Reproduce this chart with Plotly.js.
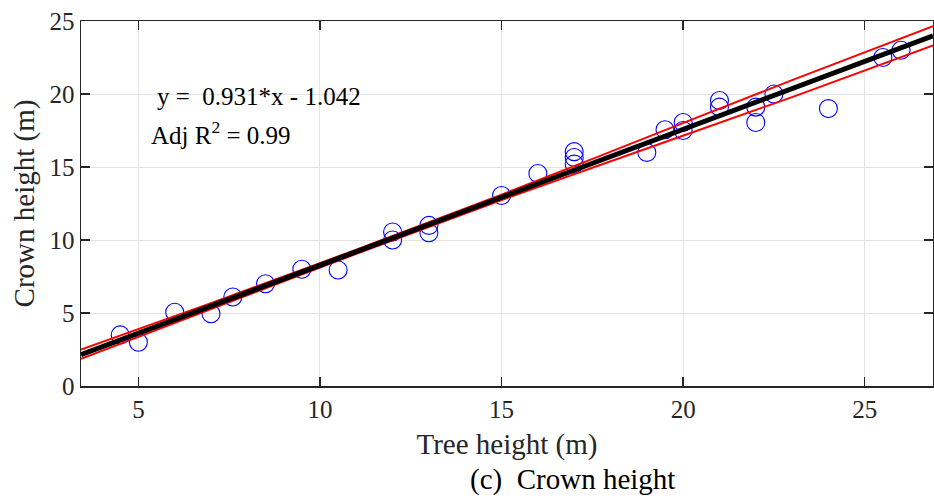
<!DOCTYPE html>
<html>
<head>
<meta charset="utf-8">
<script src="https://cdn.plot.ly/plotly-3.0.1.min.js"></script>
<style>
  html, body { margin: 0; padding: 0; background: #ffffff; }
  #chart { width: 934px; height: 496px; }
</style>
</head>
<body>
<div id="chart"></div>
<script>
// Observed data: tree height (x) vs crown height (y)
const treeHeight = [4.5, 5, 6, 7, 7.6, 8.5, 9.5, 10.5, 12, 12, 13, 13, 15, 16, 17, 17, 17,
                    19, 19.5, 20, 20, 21, 21, 22, 22, 22.5, 24, 25.5, 26];
const crownHeight = [3.5, 3, 5.05, 4.95, 6.1, 7, 8, 7.95, 10.55, 10, 11, 10.5, 13.05, 14.55, 16.05, 15.65, 15.2,
                     16, 17.55, 18.05, 17.5, 19.55, 19.1, 19.1, 18.05, 20, 19, 22.5, 23];

// Fitted line coefficients (as printed on the chart)
const slope = 0.931;
const intercept = -1.042;
const fitX = [3.42, 26.88];

// Confidence bounds
const boundX = [3.42, 7, 11, 15, 19, 23, 26.88];
const boundUpper = [2.49, 5.68, 9.34, 13.10, 17.03, 20.95, 24.64];
const boundLower = [1.86, 5.27, 9.06, 12.74, 16.27, 19.79, 23.32];

// Tick values
const xTicks = [5, 10, 15, 20, 25];
const yTicks = [0, 5, 10, 15, 20, 25];

const fitY = fitX.map(x => slope * x + intercept);

const font = "Liberation Serif, Times New Roman, serif";
const axisColor = "#262626";

const traces = [
  {
    x: treeHeight, y: crownHeight, type: "scatter", mode: "markers",
    marker: { symbol: "circle-open", size: 18, color: "#0000ff", line: { width: 1.1, color: "#0000ff" } },
    hoverinfo: "x+y", showlegend: false
  },
  {
    x: boundX, y: boundUpper, type: "scatter", mode: "lines",
    line: { color: "#ff0000", width: 2, shape: "spline" }, showlegend: false
  },
  {
    x: boundX, y: boundLower, type: "scatter", mode: "lines",
    line: { color: "#ff0000", width: 2, shape: "spline" }, showlegend: false
  },
  {
    x: fitX, y: fitY, type: "scatter", mode: "lines",
    line: { color: "#000000", width: 5 }, showlegend: false
  }
];

const layout = {
  width: 934, height: 496,
  margin: { l: 81, r: 1, t: 21, b: 110 },
  paper_bgcolor: "#ffffff", plot_bgcolor: "#ffffff",
  font: { family: font, color: axisColor, size: 25 },
  xaxis: {
    range: [3.42, 26.88], tickvals: xTicks, ticktext: xTicks.map(String),
    ticks: "inside", ticklen: 9, tickwidth: 1.3, tickcolor: axisColor,
    showline: true, linecolor: axisColor, linewidth: 1.5, mirror: "ticks",
    showgrid: true, gridcolor: "#e3e3e3", gridwidth: 1, zeroline: false,
    tickfont: { family: font, size: 25, color: axisColor },
    title: { text: "Tree height (m)", font: { family: font, size: 29, color: axisColor }, standoff: 12 },
    automargin: false
  },
  yaxis: {
    range: [0, 25], tickvals: yTicks, ticktext: yTicks.map(String),
    ticks: "inside", ticklen: 9, tickwidth: 1.3, tickcolor: axisColor,
    showline: true, linecolor: axisColor, linewidth: 1.5, mirror: "ticks",
    showgrid: true, gridcolor: "#e3e3e3", gridwidth: 1, zeroline: false,
    tickfont: { family: font, size: 25, color: axisColor },
    title: { text: "Crown height (m)", font: { family: font, size: 29, color: axisColor }, standoff: 6 },
    automargin: false
  },
  annotations: [
    { text: "y =  0.931*x - 1.042", xref: "x", yref: "y", x: 5.45, y: 19.8,
      xanchor: "left", yanchor: "middle", showarrow: false,
      font: { family: font, size: 25, color: "#000000" } },
    { text: "Adj R<sup>2</sup> = 0.99", xref: "x", yref: "y", x: 5.3, y: 17.3,
      xanchor: "left", yanchor: "middle", showarrow: false,
      font: { family: font, size: 25, color: "#000000" } },
    { text: "(c)  Crown height", xref: "paper", yref: "paper", x: 0.577, y: -0.255,
      xanchor: "center", yanchor: "middle", showarrow: false,
      font: { family: font, size: 29, color: "#000000" } }
  ]
};

Plotly.newPlot("chart", traces, layout, { displayModeBar: false, staticPlot: true });
</script>
</body>
</html>
